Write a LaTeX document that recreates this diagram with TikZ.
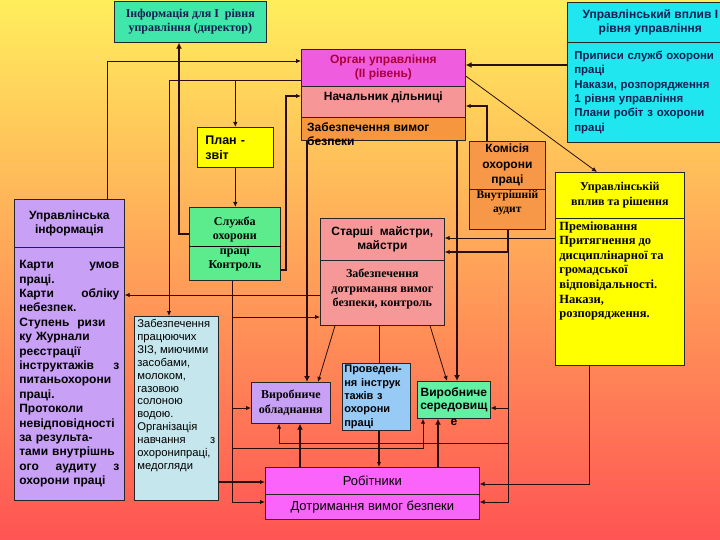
\documentclass[tikz,border=0pt]{standalone}
\usepackage{fontspec}
\setmainfont{Liberation Serif}
\setsansfont{Liberation Sans}
\usetikzlibrary{arrows.meta}

\definecolor{bgtop}{RGB}{255,238,92}
\definecolor{bgmid}{RGB}{255,178,82}
\definecolor{bgbot}{RGB}{255,84,84}
\definecolor{dircol}{RGB}{64,230,170}
\definecolor{cyancol}{RGB}{32,230,240}
\definecolor{organcol}{RGB}{240,92,222}
\definecolor{nachcol}{RGB}{246,150,150}
\definecolor{zabcol}{RGB}{246,150,62}
\definecolor{plancol}{RGB}{255,255,0}
\definecolor{sluzhcol}{RGB}{92,236,142}
\definecolor{lavcol}{RGB}{200,160,245}
\definecolor{lbluecol}{RGB}{196,230,236}
\definecolor{komiscol}{RGB}{246,152,72}
\definecolor{starcol}{RGB}{246,152,152}
\definecolor{provcol}{RGB}{152,202,246}
\definecolor{sercol}{RGB}{100,240,162}
\definecolor{robcol}{RGB}{250,100,250}
\definecolor{navytext}{RGB}{16,30,80}
\definecolor{organtext}{RGB}{170,0,60}
\definecolor{linecol}{RGB}{42,14,14}

\begin{document}
\begin{tikzpicture}[x=1pt,y=-1pt,
    box/.style={draw=black!85,line width=0.7pt,anchor=north west,inner sep=2pt,align=center},
    link/.style={draw=linecol,line width=0.8pt,-{Latex[length=5pt,width=4.5pt]}},
    midlink/.style={link,line width=1.4pt},
    boldlink/.style={draw=linecol,line width=2.4pt,-{Latex[length=6pt,width=6pt]}},
    plainlink/.style={draw=linecol,line width=0.8pt}]
    \providecommand{\sanstext}{\sffamily\bfseries\fontsize{12}{14}\selectfont}
    \providecommand{\seriftext}{\rmfamily\bfseries\fontsize{12}{14.5}\selectfont}
    \providecommand{\bodytext}{\sffamily\bfseries\fontsize{12}{14.4}\selectfont}
    \providecommand{\thintext}{\sffamily\fontsize{11.2}{12.9}\selectfont}
    \useasboundingbox (0,0) rectangle (720,540);
    \clip (0,0) rectangle (720,540);
    \shade[top color=bgtop,middle color=bgmid,bottom color=bgbot] (0,0) rectangle (720,540);

    % top level
    \node[box,fill=dircol,text=navytext,font=\seriftext,minimum width=152,minimum height=41] (dir) at (114,1) {Інформація для I \ рівня\\управління (директор)};
    \node[box,fill=cyancol,text=navytext,font=\sanstext,minimum width=166,minimum height=40] (vplyvh) at (567,2) {Управлінський вплив I\\рівня управління};
    \node[box,fill=cyancol,text=navytext,font=\sffamily\bfseries\fontsize{11.4}{14.4}\selectfont,align=left,text width=152pt,inner xsep=7pt,minimum width=166,minimum height=100] (vplyvb) at (567,42) {\mbox{Приписи служб охорони}\\праці\\\mbox{Накази, розпорядження}\\1 рівня управління\\\mbox{Плани робіт з охорони}\\праці};

    % second level
    \node[box,fill=organcol,text=organtext,font=\sanstext,minimum width=164,minimum height=37] (organ) at (301,49) {Орган управління\\(II рівень)};
    \node[box,fill=nachcol,font=\sanstext,minimum width=164,minimum height=31] (nach) at (301,86) {Начальник дільниці\\[-3pt]};
    \node[box,fill=zabcol,minimum width=164,minimum height=23] (zabvym) at (301,117) {};
    \node[font=\sanstext,anchor=north west,align=left,inner sep=0pt] (zabvymtext) at ([xshift=6,yshift=-6]zabvym.north west) {Забезпечення вимог\\безпеки};

    \node[box,fill=plancol,font=\sffamily\bfseries\fontsize{12.5}{15}\selectfont,align=left,text width=60pt,minimum width=76,minimum height=40] (plan) at (197,127) {План -\\звіт};
    \node[box,fill=sluzhcol,font=\seriftext,minimum width=91,minimum height=73] (sluzh) at (189,207) {Служба\\охорони\\праці\\Контроль};
    \draw[line width=0.7pt] ([yshift=-39]sluzh.north west) -- ([yshift=-39]sluzh.north east);

    \node[box,fill=lavcol,font=\sanstext,minimum width=110,minimum height=48] (uinfoh) at (14,199) {Управлінська\\інформація};
    \node[box,fill=lavcol,font=\bodytext,align=left,text width=100pt,inner xsep=5pt,minimum width=110,minimum height=253] (uinfob) at (14,247) {Карти\hfill умов\\праці.\\Карти\hfill обліку\\небезпек.\\Ступень\ \ ризи\\ку Журнали\\реєстрації\\інструктажів\hfill з\\питаньохорони\\праці.\\Протоколи\\невідповідності\\за результа-\\тами внутрішнь\\ого\hfill аудиту\hfill з\\охорони праці};
    \node[box,fill=lbluecol,font=\thintext,align=left,inner sep=3pt,minimum width=84] (zabprac) at (134,316) {\parbox[t][178pt][t]{78pt}{Забезпечення\\працюючих\\\ ЗІЗ, миючими\\засобами,\\молоком,\\газовою\\солоною\\водою.\\Організація\\навчання\hfill з\\охоронипраці,\\медогляди}};

    \node[box,fill=komiscol,font=\sffamily\bfseries\fontsize{12}{15.5}\selectfont,minimum width=76,minimum height=48] (komish) at (469,141) {Комісія\\охорони\\праці};
    \node[box,fill=komiscol,font=\rmfamily\bfseries\fontsize{11.5}{14}\selectfont,minimum width=76,minimum height=40,inner sep=1pt] (komisb) at (469,189) {Внутрішній\\аудит\\[2pt]};

    \node[box,fill=plancol,font=\seriftext,minimum width=129,minimum height=46] (rish) at (555,172) {Управлінській\\вплив та рішення};
    \node[box,fill=plancol,font=\rmfamily\bfseries\fontsize{12.5}{14.6}\selectfont,align=left,inner sep=3pt,minimum width=129] (rishb) at (555,218) {\parbox[t][141pt][t]{121pt}{Преміювання\\Притягнення до\\\ дисциплінарної та\\громадської\\відповідальності.\\Накази,\\розпорядження.}};

    \node[box,fill=starcol,font=\sanstext,minimum width=124,minimum height=42] (star) at (320,218) {Старші\ \ майстри,\\майстри};
    \node[box,fill=starcol,font=\seriftext,minimum width=124,minimum height=65] (starb) at (320,260) {Забезпечення\\дотримання вимог\\безпеки, контроль\\[-4.5pt]};

    % bottom level
    \node[box,fill=lavcol,font=\seriftext,minimum width=79,minimum height=41] (obl) at (251,382) {Виробниче\\обладнання};
    \node[box,fill=provcol,font=\sffamily\bfseries\fontsize{11}{13.3}\selectfont,align=left,text width=64pt,minimum width=68,minimum height=66] (prov) at (342,363) {Проведен-\\ня інструк\\тажів з\\охорони\\праці};
    \node[box,fill=sercol,font=\sffamily\bfseries\fontsize{12}{13.5}\selectfont,minimum width=73,minimum height=37,inner sep=1pt,
        label={[name=serend,anchor=north,inner sep=0.5pt,font=\sffamily\bfseries\fontsize{12}{13}\selectfont]south:е}] (ser) at (417,381) {Виробниче\\середовищ};
    \node[box,fill=robcol,font=\sffamily\fontsize{13}{15}\selectfont,minimum width=214,minimum height=27] (rob) at (265,467) {Робітники};
    \node[box,fill=robcol,font=\sffamily\fontsize{13}{15}\selectfont,minimum width=214,minimum height=25] (dot) at (265,494) {Дотримання вимог безпеки};

    % routing points
    \coordinate (infoup) at (107,61);
    \coordinate (organleft) at (169,80);
    \coordinate (dirup) at (179,234);
    \coordinate (nachup) at (286,96);
    \coordinate (sluzhright) at (286,270);
    \coordinate (komisup) at (487,106);
    \coordinate (leftbolt) at (307,0);
    \coordinate (rightbolt) at (457,0);
    \coordinate (vplyvrow) at (0,65);
    \coordinate (diagrow) at (0,76);
    \coordinate (diagcol) at (597,0);
    \coordinate (rishrow) at (0,238);
    \coordinate (komisrow) at (0,252);
    \coordinate (infrow) at (0,295);
    \coordinate (starrow) at (0,317);
    \coordinate (oblrow) at (0,408);
    \coordinate (crossa) at (0,443);
    \coordinate (crossb) at (0,448);
    \coordinate (robrow) at (0,482);
    \coordinate (dotrow) at (0,502);
    \coordinate (sluzhbus) at (232,0);
    \coordinate (komisbus) at (508,0);
    \coordinate (crossacol) at (279,0);
    \coordinate (crossbcol) at (423,0);
    \coordinate (provcol) at (379,0);
    \coordinate (oblcol) at (300,0);
    \coordinate (sercol) at (438,0);
    \coordinate (starbl) at (335,0);
    \coordinate (obltop) at (318,0);
    \coordinate (starbr) at (430,0);
    \coordinate (sertop) at (447,0);
    \coordinate (rishdown) at (589,484);

    % connectors
    \draw[link] (uinfoh.north -| infoup) |- (organ.west |- infoup);
    \draw[link] (organ.west |- organleft) -| (zabprac.north -| organleft);
    \draw[link] (plan.north |- organleft) -- (plan.north);
    \draw[link] (plan.south) -- (sluzh.north -| plan.south);
    \draw[boldlink] (sluzh.west |- dirup) -| (dir.south -| dirup);
    \draw[midlink] (sluzh.east |- sluzhright) -| (nachup) -- (nach.west |- nachup);
    \draw[boldlink] (zabvym.south -| leftbolt) -- (obl.north -| leftbolt);
    \draw[boldlink] (zabvym.south -| rightbolt) -- (ser.north -| rightbolt);
    \draw[boldlink] (vplyvb.west |- vplyvrow) -- (organ.east |- vplyvrow);
    \draw[link] (organ.east |- diagrow) -- (rish.north -| diagcol);
    \draw[midlink] (komish.north -| komisup) |- (nach.east |- komisup);
    \draw[link] (rishb.west |- rishrow) -- (star.east |- rishrow);
    \draw[midlink] (komisb.south -| komisbus) |- (star.east |- komisrow);
    \draw[link] (komisbus |- komisrow) |- (dot.east |- dotrow);
    \draw[link] (komisbus |- oblrow) -- (ser.east |- oblrow);
    \draw[link] (komisbus |- crossa) -| (obl.south -| crossacol);
    \draw[link] (starb.west |- infrow) -- (uinfob.east |- infrow);
    \draw[link] (sluzh.south -| sluzhbus) |- (dot.west |- dotrow);
    \draw[link] (sluzhbus |- starrow) -- (starb.west |- starrow);
    \draw[link] (sluzhbus |- oblrow) -- (obl.west |- oblrow);
    \draw[link] (sluzhbus |- crossb) -| (ser.south -| crossbcol);
    \draw[link] (starb.south -| starbl) -- (obl.north -| obltop);
    \draw[link] (starb.south -| starbr) -- (ser.north -| sertop);
    \draw[plainlink] (starb.south -| provcol) -- (prov.north -| provcol);
    \draw[midlink] (prov.south -| provcol) -- (rob.north -| provcol);
    \draw[boldlink] (rob.north -| oblcol) -- (obl.south -| oblcol);
    \draw[boldlink] (rob.north -| sercol) -- (ser.south -| sercol);
    \draw[midlink] (zabprac.east |- robrow) -- (rob.west |- robrow);
    \draw[link] (rishb.south -| rishdown) |- (rob.east |- rishdown);
\end{tikzpicture}
\end{document}
